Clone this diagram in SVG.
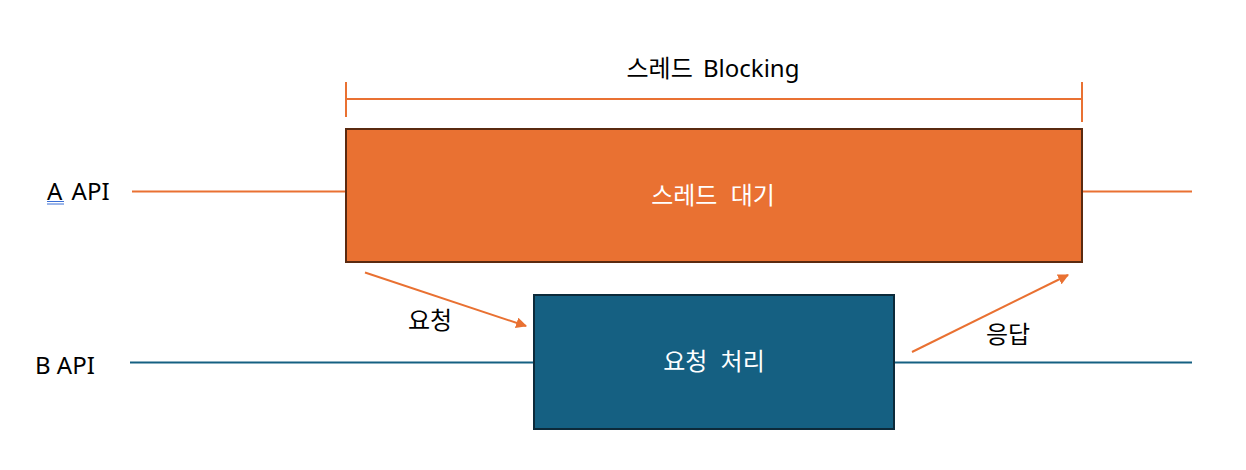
<svg xmlns="http://www.w3.org/2000/svg" width="1246" height="470" viewBox="0 0 1246 470">
<defs>
<style>
text{font-family:"Noto Sans","Noto Sans CJK KR",sans-serif;font-size:24px;fill:#000}
.w{fill:#fff;word-spacing:7px}
.o{stroke:#E97132;stroke-width:2;fill:none}
.b{stroke:#156082;stroke-width:2;fill:none}
</style>
<marker id="ah" viewBox="0 0 10 10" refX="9" refY="5" markerWidth="5.5" markerHeight="5.5" orient="auto" markerUnits="strokeWidth">
<path d="M0,0 L10,5 L0,10 z" fill="#E97132"/>
</marker>
</defs>
<rect width="1246" height="470" fill="#fff"/>
<g id="labels">
<text x="47" y="200" word-spacing="3">A API</text>
<line x1="47" y1="201.5" x2="64" y2="201.5" stroke="#3b6fd6" stroke-width="1"/>
<line x1="47" y1="204" x2="64" y2="204" stroke="#3b6fd6" stroke-width="1"/>
<text x="35" y="374">B API</text>
<text x="713" y="77" text-anchor="middle" word-spacing="4">스레드 Blocking</text>
</g>
<g id="connectors">
<line class="o" x1="132" y1="191.5" x2="346" y2="191.5"/>
<line class="o" x1="1082" y1="191.5" x2="1192" y2="191.5"/>
<line class="b" x1="130" y1="362.5" x2="534" y2="362.5"/>
<line class="b" x1="894" y1="362.5" x2="1192" y2="362.5"/>
<line class="o" x1="346" y1="99" x2="1082" y2="99"/>
<line class="o" x1="346" y1="82" x2="346" y2="117"/>
<line class="o" x1="1082" y1="82" x2="1082" y2="122"/>
<line class="o" x1="365" y1="272.5" x2="526" y2="326" marker-end="url(#ah)"/>
<line class="o" x1="912" y1="352" x2="1068" y2="275" marker-end="url(#ah)"/>
<text x="430" y="329" text-anchor="middle">요청</text>
<text x="1008" y="343" text-anchor="middle">응답</text>
</g>
<g id="thread-wait">
<rect x="346" y="129" width="736" height="133" fill="#E97132" stroke="#5a2a10" stroke-width="2"/>
<text class="w" x="713" y="204" text-anchor="middle">스레드 대기</text>
</g>
<g id="request-processing">
<rect x="534" y="295" width="360" height="134" fill="#156082" stroke="#0c2a3a" stroke-width="2"/>
<text class="w" x="714" y="370" text-anchor="middle">요청 처리</text>
</g>
</svg>
